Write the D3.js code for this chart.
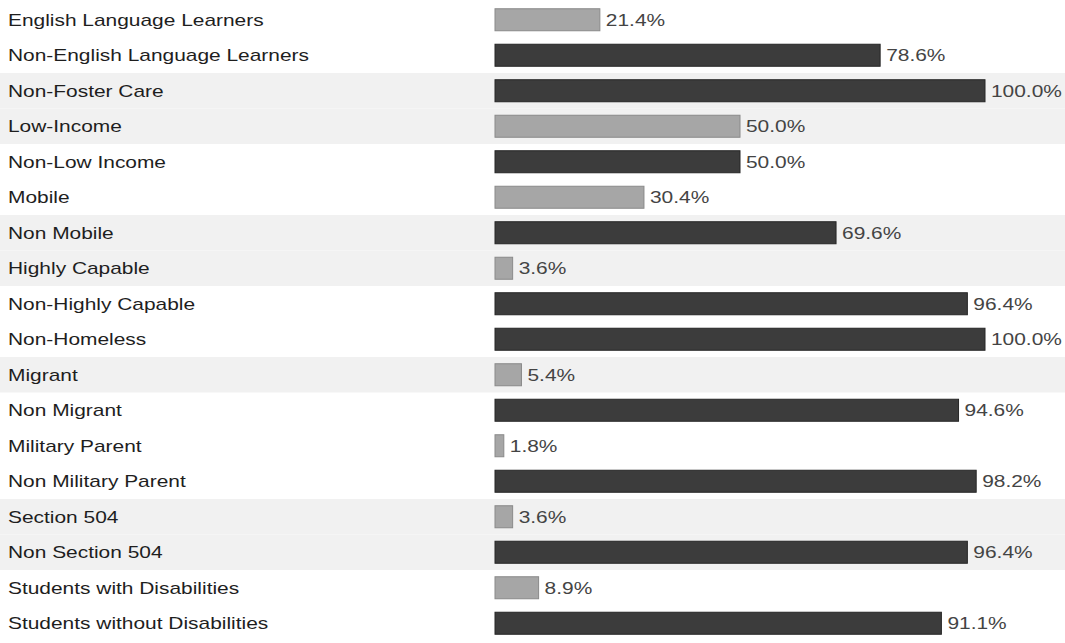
<!DOCTYPE html>
<html>
<head>
<meta charset="utf-8">
<script src="https://cdn.jsdelivr.net/npm/d3@7"></script>
<style>
  body { margin: 0; background: #fff; }
  svg { display: block; font-family: "Liberation Sans", Arial, sans-serif; }
</style>
</head>
<body>
<div id="chart"></div>
<script>
// categories and values
const groups = [
  "English Language Learners", "Non-English Language Learners", "Non-Foster Care",
  "Low-Income", "Non-Low Income", "Mobile", "Non Mobile", "Highly Capable",
  "Non-Highly Capable", "Non-Homeless", "Migrant", "Non Migrant", "Military Parent",
  "Non Military Parent", "Section 504", "Non Section 504", "Students with Disabilities",
  "Students without Disabilities"
];
const percents = [21.4, 78.6, 100.0, 50.0, 50.0, 30.4, 69.6, 3.6, 96.4, 100.0, 5.4, 94.6, 1.8, 98.2, 3.6, 96.4, 8.9, 91.1];
// true = the "in group" side (light bar), false = the "non" side (dark bar)
const inGroup = [true, false, false, true, false, true, false, true, false, false, true, false, true, false, true, false, true, false];
// rows that came out greyish in the scan
const greyRows = [2, 3, 6, 7, 10, 14, 15];

const width = 1065, height = 643;
const barLeft = 495, barRight = 985;
const stretch = 1.23;   // the scanned text is wider than it is tall

let data = groups.map((g, i) => ({ name: g, pct: percents[i], light: inGroup[i], i: i }));

let svg = d3.select("#chart").append("svg")
  .attr("width", width)
  .attr("height", height);

let y = d3.scaleBand()
  .domain(groups)
  .range([2, height - 2])
  .paddingInner(0.38)
  .paddingOuter(0.19);

let x = d3.scaleLinear()
  .domain([0, 100])
  .range([barLeft, barRight]);

let step = y.step();

// scan-ish background bands
svg.selectAll("rect.band")
  .data(greyRows)
  .join("rect")
    .attr("class", "band")
    .attr("x", 0)
    .attr("width", width)
    .attr("y", d => y(groups[d]) - (step - y.bandwidth()) / 2)
    .attr("height", step)
    .style("fill", "#f1f1f1");

svg.selectAll("text.label")
  .data(data)
  .join("text")
    .attr("class", "label")
    .attr("transform", d => "translate(8," + (y(d.name) + y.bandwidth() / 2) + ") scale(" + stretch + ",1)")
    .attr("dy", "0.36em")
    .style("font-size", "17px")
    .style("fill", "#1e1e1e")
    .text(d => d.name);

svg.selectAll("rect.bar")
  .data(data)
  .join("rect")
    .attr("class", "bar")
    .attr("x", x(0))
    .attr("y", d => y(d.name))
    .attr("width", d => x(d.pct) - x(0))
    .attr("height", y.bandwidth())
    .style("fill", d => d.light ? "#a6a6a6" : "#3c3c3c")
    .style("stroke", d => d.light ? "#8a8a8a" : "#262626")
    .style("stroke-width", 1);

svg.selectAll("text.value")
  .data(data)
  .join("text")
    .attr("class", "value")
    .attr("transform", d => "translate(" + (x(d.pct) + 6) + "," + (y(d.name) + y.bandwidth() / 2) + ") scale(" + stretch + ",1)")
    .attr("dy", "0.36em")
    .style("font-size", "17px")
    .style("fill", "#444")
    .text(d => d.pct.toFixed(1) + "%");
</script>
</body>
</html>
